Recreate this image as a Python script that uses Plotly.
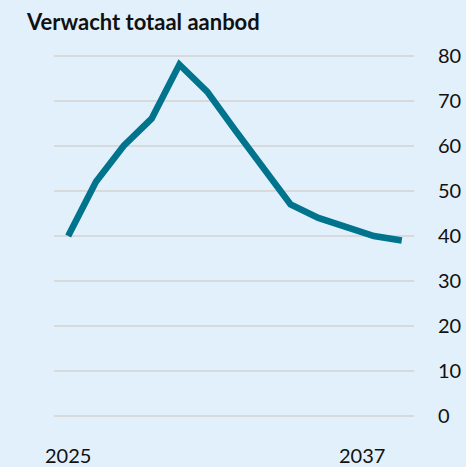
import plotly.graph_objects as go

years = [2025, 2026, 2027, 2028, 2029, 2030, 2031, 2032, 2033, 2034, 2035, 2036, 2037]
aanbod = [40, 52, 60, 66, 78, 72, 63.5, 55, 47, 44, 42, 40, 39]
y_ticks = [0, 10, 20, 30, 40, 50, 60, 70, 80]
title_text = "Verwacht totaal aanbod"
x_labels = ["2025", "2037"]

bg = "#e2f0fb"
font_family = "Lato, 'Open Sans', sans-serif"

fig = go.Figure()
fig.add_trace(go.Scatter(
    x=years, y=aanbod, mode="lines",
    line=dict(color="#00738d", width=6.5),
    hoverinfo="skip", showlegend=False,
))

fig.update_layout(
    width=466, height=467,
    paper_bgcolor=bg, plot_bgcolor=bg,
    margin=dict(l=54, r=52, t=50.5, b=45.5),
    font=dict(family=font_family, size=20, color="#111111"),
    title=dict(
        text="<b>" + title_text + "</b>",
        xref="container", yref="container",
        x=27 / 466, xanchor="left",
        y=1 - 15 / 467, yanchor="top",
        font=dict(family=font_family, size=22, color="#111111"),
    ),
    xaxis=dict(
        range=[2024.49, 2037.44],
        showgrid=False, zeroline=False, showline=False,
        showticklabels=False, fixedrange=True, automargin=False,
    ),
    yaxis=dict(
        side="right", range=[-1, 81],
        tickvals=y_ticks, ticktext=[str(v) for v in y_ticks],
        showgrid=True, gridcolor="#d7d9db", gridwidth=2,
        zeroline=False, showline=False,
        ticks="", ticklabelstandoff=23,
        tickfont=dict(family=font_family, size=20, color="#111111"),
        fixedrange=True, automargin=False,
    ),
)

fig.add_annotation(
    x=years[0], xref="x", y=0, yref="paper", yshift=-34,
    text=x_labels[0], showarrow=False, xanchor="center", yanchor="middle",
    font=dict(family=font_family, size=20, color="#111111"),
)
fig.add_annotation(
    x=years[-1], xref="x", y=0, yref="paper", yshift=-34, xshift=-15,
    text=x_labels[1], showarrow=False, xanchor="right", yanchor="middle",
    font=dict(family=font_family, size=20, color="#111111"),
)

fig.write_html(
    "out.html",
    config={"displayModeBar": False},
    post_script="document.body.style.margin='0';document.body.style.overflow='hidden';",
)
